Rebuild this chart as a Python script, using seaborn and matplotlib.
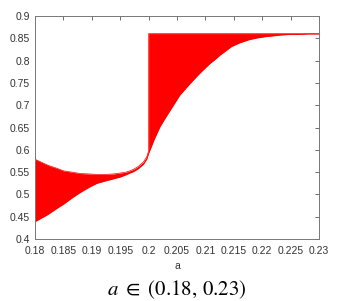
import matplotlib
matplotlib.use("Agg")
import matplotlib.pyplot as plt
import seaborn as sns
import pandas as pd
from matplotlib.ticker import FormatStrFormatter

# Valores (dos puntos en a=0.2 para el salto vertical)
a_vals = [0.18, 0.181, 0.182, 0.1826, 0.184, 0.185, 0.1865, 0.1879, 0.1895, 0.1909,
          0.1926, 0.1938, 0.195, 0.196, 0.1967, 0.1973, 0.1982, 0.1991, 0.1997, 0.2,
          0.2, 0.201, 0.202, 0.203, 0.2038, 0.2055, 0.2073, 0.209, 0.2108, 0.2117,
          0.2126, 0.2146, 0.216, 0.2176, 0.219, 0.2205, 0.222, 0.2234, 0.225, 0.2265,
          0.228, 0.23]
upper = [0.579, 0.573, 0.567, 0.564, 0.558, 0.553, 0.550, 0.547, 0.546, 0.545,
         0.545, 0.546, 0.548, 0.550, 0.553, 0.556, 0.563, 0.573, 0.585, 0.598,
         0.861, 0.861, 0.861, 0.861, 0.861, 0.861, 0.861, 0.861, 0.861, 0.861,
         0.861, 0.861, 0.861, 0.861, 0.861, 0.861, 0.861, 0.861, 0.861, 0.861,
         0.861, 0.861]
lower = [0.439, 0.446, 0.453, 0.458, 0.470, 0.478, 0.492, 0.504, 0.516, 0.525,
         0.531, 0.535, 0.539, 0.544, 0.548, 0.551, 0.558, 0.568, 0.580, 0.592,
         0.592, 0.624, 0.652, 0.673, 0.689, 0.723, 0.749, 0.772, 0.794, 0.803,
         0.813, 0.832, 0.840, 0.847, 0.851, 0.854, 0.856, 0.858, 0.859, 0.859,
         0.860, 0.860]

x_ticks = [0.18, 0.185, 0.19, 0.195, 0.2, 0.205, 0.21, 0.215, 0.22, 0.225, 0.23]
y_ticks = [0.4, 0.45, 0.5, 0.55, 0.6, 0.65, 0.7, 0.75, 0.8, 0.85, 0.9]

df = pd.DataFrame({"a": a_vals, "upper": upper, "lower": lower})

sns.set_style("white")
plt.rcParams["font.family"] = ["Liberation Sans", "DejaVu Sans"]
plt.rcParams["mathtext.fontset"] = "stix"

fig = plt.figure(figsize=(3.5, 3.01), dpi=100)
ax = fig.add_axes([0.1, 0.206, 0.8114, 0.7402])

# Región rellena entre las dos curvas
ax.fill_between(df["a"], df["lower"], df["upper"], color="red", linewidth=0)
sns.lineplot(data=df, x="a", y="upper", ax=ax, color="red", linewidth=0.5,
             sort=False, estimator=None)
sns.lineplot(data=df, x="a", y="lower", ax=ax, color="red", linewidth=0.5,
             sort=False, estimator=None)

ax.set_xlim(0.18, 0.23)
ax.set_ylim(0.4, 0.9)
ax.set_xticks(x_ticks)
ax.set_yticks(y_ticks)
ax.xaxis.set_major_formatter(FormatStrFormatter("%g"))
ax.yaxis.set_major_formatter(FormatStrFormatter("%g"))
ax.tick_params(direction="in", length=3, width=0.6, colors="#555555",
               labelcolor="#333333", labelsize=7.5, top=True, right=True)
ax.tick_params(axis="x", pad=5)
for s in ax.spines.values():
    s.set_color("#777777")
    s.set_linewidth(0.7)
ax.set_xlabel("a", fontsize=7.5, color="#333333", labelpad=4)
ax.set_ylabel("")

fig.text(0.505, 0.02, r"$a\ \in\ (0.18,\,0.23)$", fontsize=15, ha="center",
         va="baseline", color="black")

fig.savefig("out.png", dpi=100)
